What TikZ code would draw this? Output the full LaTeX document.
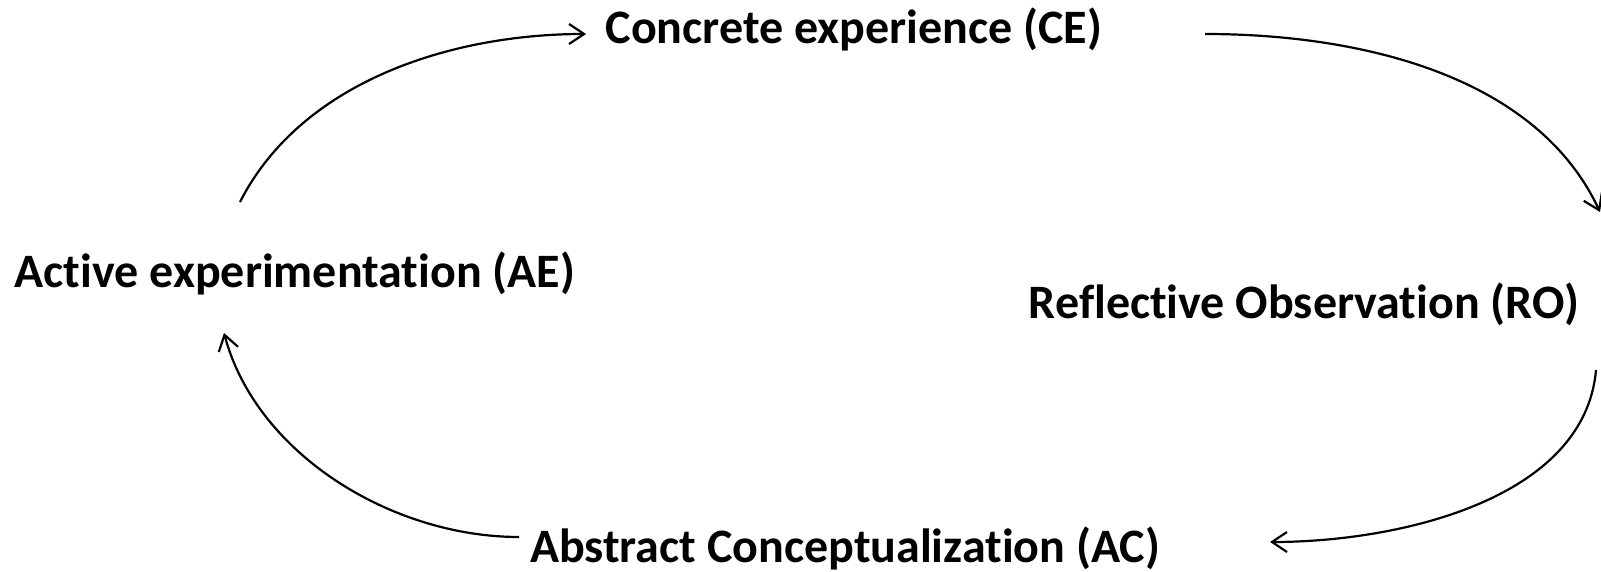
\documentclass[tikz,border=0pt]{standalone}
\usepackage{fontspec}
\setmainfont{Carlito}[Ligatures=NoCommon]
\usetikzlibrary{arrows.meta}
\tikzset{stage/.style={font=\fontsize{48}{56}\selectfont\bfseries,inner sep=0pt,anchor=base},
cyc/.style={line width=2.2pt,-{Straight Barb[length=15pt,width=20pt]}}}
\begin{document}
\begin{tikzpicture}[x=1pt,y=1pt]
\useasboundingbox (0,0) rectangle (1601,571);
\node[stage] (CE) at (854,527) {Concrete experience (CE)};
\node[stage] (AE) at (295,283) {Active experimentation (AE)};
\node[stage] (RO) at (1304,252) {Reflective Observation (RO)};
\node[stage] (AC) at (845,9) {Abstract Conceptualization (AC)};
\coordinate (ae-out) at (240,369); \coordinate (ce-in) at (586,537);
\coordinate (ce-out) at (1205,537); \coordinate (ro-in) at (1600,359);
\coordinate (ro-out) at (1596,201); \coordinate (ac-in) at (1270,29);
\coordinate (ac-out) at (519,34); \coordinate (ae-in) at (224,238);
\draw[cyc] (ae-out) to[out=63,in=180,looseness=0.9] (ce-in);
\draw[cyc] (ce-out) to[out=0,in=115,looseness=0.9] (ro-in);
\draw[cyc] (ro-out) to[out=-95,in=0,looseness=0.9] (ac-in);
\draw[cyc] (ac-out) to[out=180,in=-75,looseness=0.9] (ae-in);
\end{tikzpicture}
\end{document}
